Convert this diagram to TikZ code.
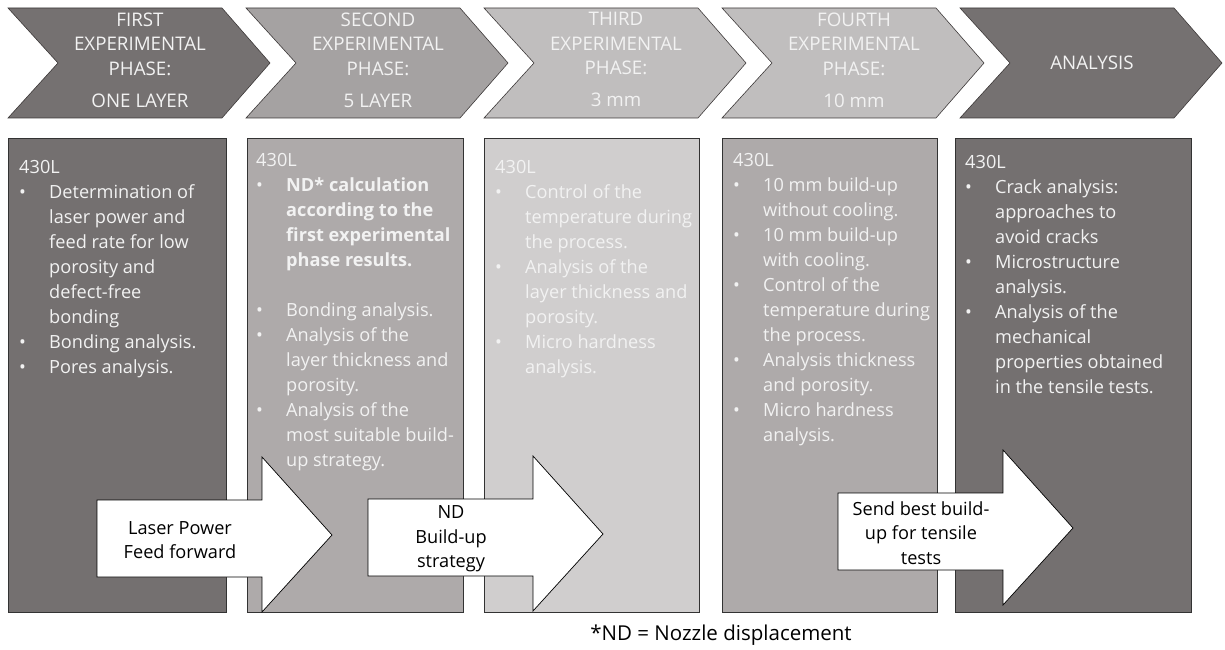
\documentclass[tikz,border=0pt]{standalone}
\usepackage{fontspec}
\setmainfont{Open Sans}
\usetikzlibrary{positioning}
\definecolor{phasedark}{RGB}{117,113,113}
\definecolor{phasemid}{RGB}{165,162,162}
\definecolor{phaselight}{RGB}{192,190,190}
\definecolor{boxdark}{RGB}{116,112,112}
\definecolor{boxmid}{RGB}{174,170,170}
\definecolor{boxlight}{RGB}{208,206,206}
\definecolor{edgegray}{RGB}{60,56,56}
\definecolor{paletext}{RGB}{242,242,242}

\tikzset{
  chevron/.style={draw=edgegray, line width=0.5pt},
  phasetext/.style={text=paletext, align=center, inner sep=0pt, font=\fontsize{16}{20.9}\selectfont},
  stepcard/.style={draw=black!80, line width=0.6pt},
  cardtext/.style={anchor=north west, inner sep=0pt, text=paletext, font=\fontsize{15.5}{21.3}\selectfont},
  blockarrow/.style={draw=black, fill=white, line width=0.6pt},
  arrowtext/.style={align=center, inner sep=0pt, font=\fontsize{15.5}{20.9}\selectfont},
}

\begin{document}
\begin{tikzpicture}[x=0.03cm, y=-0.03cm]
  \useasboundingbox (0,0) rectangle (1225,650);

  % Phase chevrons along the top
  \foreach \x/\col in {8/phasedark, 246/phasemid, 484/phaselight, 722/phaselight, 960/phasedark}
    \draw[chevron, fill=\col] (\x,8) -- (\x+214,8) -- (\x+262,63) -- (\x+214,118)
      -- (\x,118) -- (\x+50,63) -- cycle;
  \node[phasetext, anchor=north] (first) at (140,12.3) {FIRST\\EXPERIMENTAL\\PHASE:\\[6.4pt]ONE LAYER};
  \node[phasetext, anchor=north] (second) at (378,12.3) {SECOND\\EXPERIMENTAL\\PHASE:\\[6.4pt]5 LAYER};
  \node[phasetext, anchor=north] (third) at (616,12.3) {THIRD\\EXPERIMENTAL\\PHASE:\\[6.4pt]3 mm};
  \node[phasetext, anchor=north] (fourth) at (854,12.3) {FOURTH\\EXPERIMENTAL\\PHASE:\\[6.4pt]10 mm};
  \node[phasetext] (analysis) at (1092,63) {ANALYSIS};

  % Cards under each phase
  \foreach \x/\w/\col in {8/218/boxdark, 247/216/boxmid, 484/215/boxlight, 722/215/boxmid, 955/236/boxdark}
    \draw[stepcard, fill=\col] (\x,138) rectangle ++(\w,474);

  \node[cardtext] (onelayer) at (19,156) {%
    \begin{tabular}{@{}p{25.6pt}@{}l@{}}
      \multicolumn{2}{@{}l@{}}{430L}\\
      \textbullet & Determination of\\
                  & laser power and\\
                  & feed rate for low\\
                  & porosity and\\
                  & defect-free\\
                  & bonding\\
      \textbullet & Bonding analysis.\\
      \textbullet & Pores analysis.
    \end{tabular}};
  \node[cardtext] (fivelayer) at (256,149) {%
    \begin{tabular}{@{}p{25.6pt}@{}l@{}}
      \multicolumn{2}{@{}l@{}}{430L}\\
      \textbullet & \textbf{ND* calculation}\\
                  & \textbf{according to the}\\
                  & \textbf{first experimental}\\
                  & \textbf{phase results.}\\
                  & \\
      \textbullet & Bonding analysis.\\
      \textbullet & Analysis of the\\
                  & layer thickness and\\
                  & porosity.\\
      \textbullet & Analysis of the\\
                  & most suitable build-\\
                  & up strategy.
    \end{tabular}};
  \node[cardtext] (threemm) at (495,156) {%
    \begin{tabular}{@{}p{25.6pt}@{}l@{}}
      \multicolumn{2}{@{}l@{}}{430L}\\
      \textbullet & Control of the\\
                  & temperature during\\
                  & the process.\\
      \textbullet & Analysis of the\\
                  & layer thickness and\\
                  & porosity.\\
      \textbullet & Micro hardness\\
                  & analysis.
    \end{tabular}};
  \node[cardtext] (tenmm) at (733,149) {%
    \begin{tabular}{@{}p{25.6pt}@{}l@{}}
      \multicolumn{2}{@{}l@{}}{430L}\\
      \textbullet & 10 mm build-up\\
                  & without cooling.\\
      \textbullet & 10 mm build-up\\
                  & with cooling.\\
      \textbullet & Control of the\\
                  & temperature during\\
                  & the process.\\
      \textbullet & Analysis thickness\\
                  & and porosity.\\
      \textbullet & Micro hardness\\
                  & analysis.
    \end{tabular}};
  \node[cardtext] (finalcard) at (965,151) {%
    \begin{tabular}{@{}p{25.6pt}@{}l@{}}
      \multicolumn{2}{@{}l@{}}{430L}\\
      \textbullet & Crack analysis:\\
                  & approaches to\\
                  & avoid cracks\\
      \textbullet & Microstructure\\
                  & analysis.\\
      \textbullet & Analysis of the\\
                  & mechanical\\
                  & properties obtained\\
                  & in the tensile tests.
    \end{tabular}};

  % Hand-over arrows between phases
  \draw[blockarrow] (97,500) -- (262,500) -- (262,457) -- (332,535) -- (262,612)
    -- (262,577) -- (97,577) -- cycle;
  \node[arrowtext] (laserfeed) at (180,540) {Laser Power\\Feed forward};
  \draw[blockarrow] (368,499) -- (533,499) -- (533,456) -- (603,534) -- (533,611)
    -- (533,576) -- (368,576) -- cycle;
  \node[arrowtext] (ndbuild) at (451,539) {ND\\Build-up\\strategy};
  \draw[blockarrow] (838,493) -- (1003,493) -- (1003,450) -- (1073,528) -- (1003,605)
    -- (1003,570) -- (838,570) -- cycle;
  \node[arrowtext] (sendbest) at (921,533) {Send best build-\\up for tensile\\tests};

  \node[font=\fontsize{17.5}{21}\selectfont] (ndnote) at (721,635) {*ND = Nozzle displacement};
\end{tikzpicture}
\end{document}
